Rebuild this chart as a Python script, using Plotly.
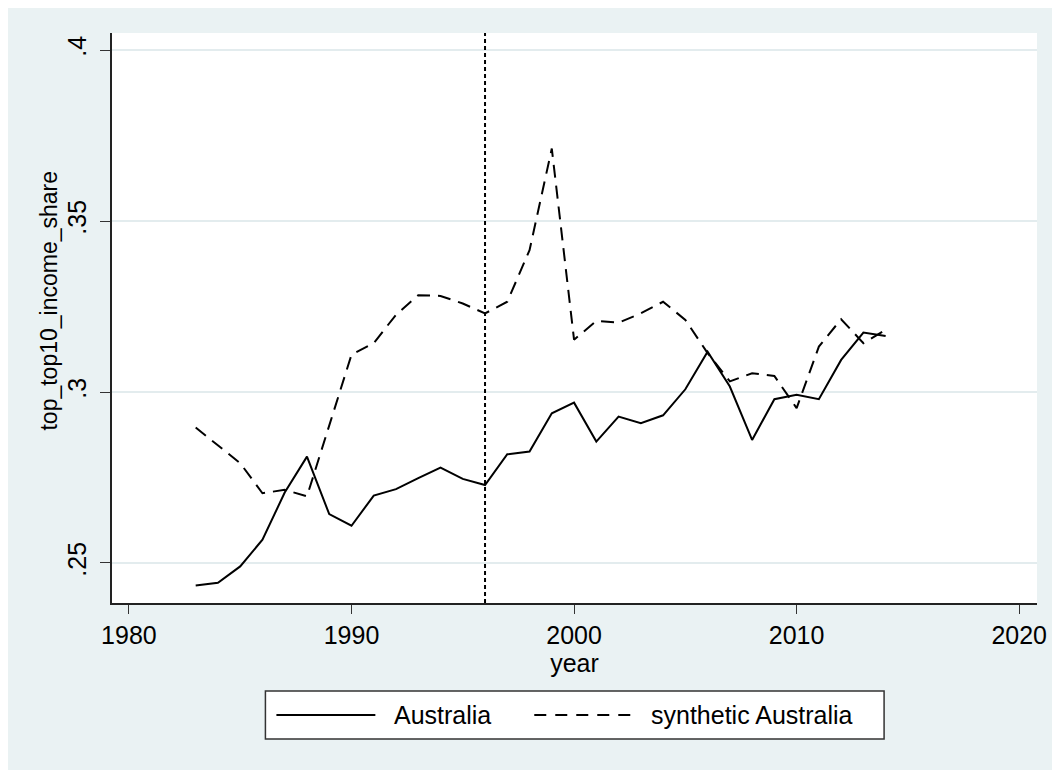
import plotly.graph_objects as go

years = list(range(1983, 2015))
australia = [0.2434, 0.2442, 0.2490, 0.2568, 0.2706, 0.2811, 0.2643, 0.2609,
             0.2697, 0.2716, 0.2748, 0.2779, 0.2746, 0.2728, 0.2818, 0.2826,
             0.2938, 0.2969, 0.2855, 0.2928, 0.2909, 0.2932, 0.3008, 0.3118,
             0.3016, 0.2860, 0.2979, 0.2992, 0.2979, 0.3094, 0.3174, 0.3164]
synthetic = [0.2896, 0.2844, 0.2792, 0.2704, 0.2714, 0.2695, 0.2900, 0.3109,
             0.3143, 0.3226, 0.3283, 0.3281, 0.3259, 0.3230, 0.3264, 0.3415,
             0.3712, 0.3153, 0.3208, 0.3203, 0.3230, 0.3264, 0.3211, 0.3114,
             0.3031, 0.3055, 0.3047, 0.2953, 0.3133, 0.3213, 0.3143, 0.3182]
x_ticks = [1980, 1990, 2000, 2010, 2020]
y_ticks = [0.25, 0.30, 0.35, 0.40]
y_tick_labels = [".25", ".3", ".35", ".4"]
treatment_year = 1996
series_names = ["Australia", "synthetic Australia"]

FONT = "Liberation Sans, Arial, Helvetica, sans-serif"
BG = "#EAF2F3"
FS = 25

fig = go.Figure()
fig.add_trace(go.Scatter(x=years, y=australia, mode="lines", name=series_names[0],
                         line=dict(color="black", width=2), showlegend=False))
fig.add_trace(go.Scatter(x=years, y=synthetic, mode="lines", name=series_names[1],
                         line=dict(color="black", width=2, dash="13px,8px"), showlegend=False))

# vertical treatment line
fig.add_shape(type="line", xref="x", yref="paper", x0=treatment_year, x1=treatment_year,
              y0=0, y1=1, line=dict(color="black", width=2, dash="4px,3px"))

# custom legend (positions relative to plot area)
def px2x(px):
    return (px - 111.5) / 925.5

def py2y(py):
    return (603 - py) / 570

fig.add_shape(type="rect", xref="paper", yref="paper", x0=px2x(265), x1=px2x(884),
              y0=py2y(739), y1=py2y(691), fillcolor="white",
              line=dict(color="#333333", width=1.5))
ly = py2y(715)
fig.add_shape(type="line", xref="paper", yref="paper", x0=px2x(276), x1=px2x(375),
              y0=ly, y1=ly, line=dict(color="black", width=2))
fig.add_shape(type="line", xref="paper", yref="paper", x0=px2x(534), x1=px2x(636),
              y0=ly, y1=ly, line=dict(color="black", width=2, dash="12px,9px"))
fig.add_annotation(xref="paper", yref="paper", x=px2x(392), y=ly, text=series_names[0],
                   xanchor="left", yanchor="middle", showarrow=False,
                   font=dict(family=FONT, size=FS, color="black"))
fig.add_annotation(xref="paper", yref="paper", x=px2x(649), y=ly, text=series_names[1],
                   xanchor="left", yanchor="middle", showarrow=False,
                   font=dict(family=FONT, size=FS, color="black"))

# y axis title
fig.add_annotation(xref="paper", yref="paper", x=px2x(48), y=py2y(301),
                   text="top_top10_income_share", textangle=-90, showarrow=False,
                   xanchor="center", yanchor="middle",
                   font=dict(family=FONT, size=23, color="black"))

fig.update_layout(
    width=1060, height=770,
    paper_bgcolor=BG, plot_bgcolor="white",
    margin=dict(l=103.5, r=31, t=25, b=175),
    font=dict(family=FONT, size=FS, color="black"),
    xaxis=dict(range=[1979.24, 2020.8], tickvals=x_ticks, ticks="outside", ticklen=9,
               tickwidth=1.2, tickcolor="#333333", showgrid=False, zeroline=False,
               showline=True, linecolor="#222222", linewidth=1.5,
               title=dict(text="year", standoff=4, font=dict(size=FS)),
               tickfont=dict(size=FS), ticklabelstandoff=0),
    yaxis=dict(range=[0.2383, 0.405], tickvals=y_ticks, ticktext=y_tick_labels,
               ticks="outside", ticklen=10, tickwidth=1.2, tickcolor="#333333",
               tickangle=-90, showgrid=True, gridcolor="#E3ECEE", gridwidth=1.5,
               zeroline=False, showline=True, linecolor="#222222", linewidth=1.5,
               tickfont=dict(size=FS), ticklabelstandoff=4),
)

fig.write_html("out.html")
